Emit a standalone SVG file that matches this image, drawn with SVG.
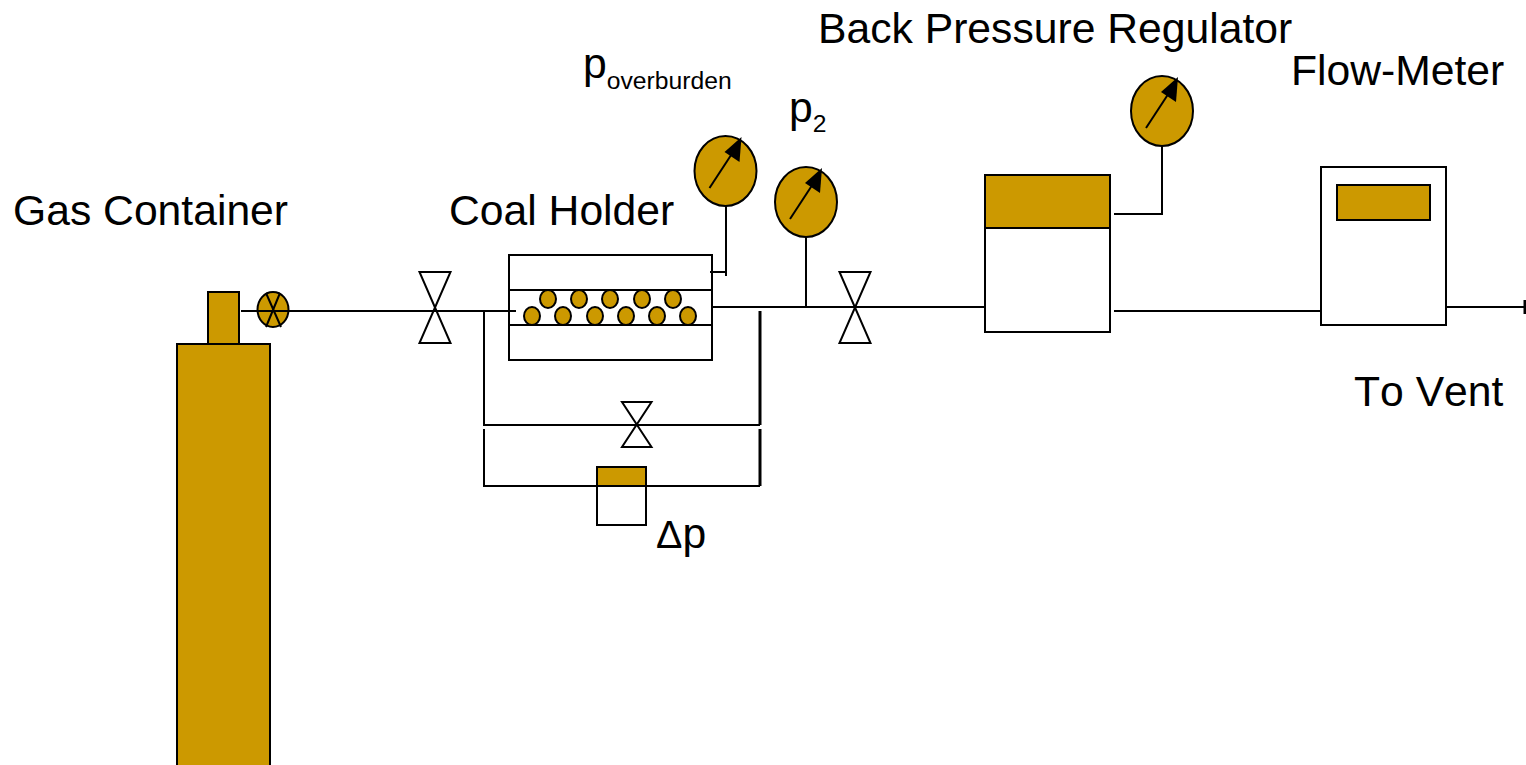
<svg xmlns="http://www.w3.org/2000/svg" width="1526" height="765" viewBox="0 0 1526 765">
<style>
.f{fill:#cc9900;stroke:#000;stroke-width:2}
.w{fill:#fff;stroke:#000;stroke-width:2}
.l{fill:none;stroke:#000;stroke-width:2}
.h{fill:none;stroke:#000;stroke-width:3}
.t{font-family:"Liberation Sans",Arial,sans-serif;font-size:42.67px;fill:#000}
.s{font-size:24.700px}
</style>
<defs>
<g id="gauge"><ellipse cx="0" cy="0" rx="31" ry="35" class="f"/><path d="M-16 17L11.500-25" class="l"/><path d="M16-34L14-9L-1-19Z" fill="#000"/></g>
<g id="valve"><path d="M-15.500-35.500H15.500L-15.500 35.500H15.500Z" class="w"/></g>
</defs>
<rect width="1526" height="765" fill="#fff"/>
<g id="gas-container">
<rect x="177" y="344" width="93" height="423" class="f"/>
<rect x="208" y="292" width="31" height="52" class="f"/>
</g>
<g id="cylinder-valve">
<ellipse cx="273" cy="309.500" rx="15.500" ry="17.500" class="f"/>
<path d="M266 293L281 327M280 293L266 327" class="l"/>
</g>
<g id="valve-1"><use href="#valve" x="435" y="307.500"/></g>
<g id="coal-holder">
<rect x="509" y="255" width="203" height="105" class="w"/>
<path d="M509 290H712M509 325H712" class="l"/>
<g class="f">
<ellipse cx="548" cy="299" rx="8" ry="9"/><ellipse cx="579" cy="299" rx="8" ry="9"/><ellipse cx="610" cy="299" rx="8" ry="9"/><ellipse cx="642" cy="299" rx="8" ry="9"/><ellipse cx="673" cy="299" rx="8" ry="9"/>
<ellipse cx="532" cy="316" rx="8" ry="9"/><ellipse cx="563" cy="316" rx="8" ry="9"/><ellipse cx="595" cy="316" rx="8" ry="9"/><ellipse cx="626" cy="316" rx="8" ry="9"/><ellipse cx="657" cy="316" rx="8" ry="9"/><ellipse cx="688" cy="316" rx="8" ry="9"/>
</g>
</g>
<g id="gauge-overburden"><use href="#gauge" x="725.500" y="171"/></g>
<g id="gauge-p2"><use href="#gauge" x="806" y="202"/></g>
<g id="valve-2"><use href="#valve" x="855" y="307.500"/></g>
<g id="valve-bypass"><path d="M622 402H651.500L622 447H651.500Z" class="w"/></g>
<g id="dp-meter">
<rect x="597" y="467" width="49" height="58" class="w"/>
<rect x="597" y="467" width="49" height="19" class="f"/>
</g>
<g id="back-pressure-regulator">
<rect x="985" y="175" width="125" height="157" class="w"/>
<rect x="985" y="175" width="125" height="53" class="f"/>
</g>
<g id="gauge-regulator"><use href="#gauge" x="1162" y="111"/></g>
<g id="flow-meter">
<rect x="1321" y="167" width="125" height="158" class="w"/>
<rect x="1337" y="185" width="93" height="35" class="f"/>
</g>
<g id="connectors">
<path d="M241 311H516" class="l"/>
<path d="M484 311V425H760" class="l"/>
<path d="M760 311V425" class="h"/>
<path d="M484 429V486H597M646 486H760" class="l"/>
<path d="M760 429V486" class="h"/>
<path d="M713 307H985" class="l"/>
<path d="M806 237V307" class="l"/>
<path d="M710 272H726M726 206V276" class="l"/>
<path d="M1114 214H1162V146" class="l"/>
<path d="M1114 311H1321" class="l"/>
<path d="M1447 307H1525" class="l"/>
<path d="M1525 300V314" class="h"/>
</g>
<g id="labels">
<text class="t" x="13" y="225">Gas Container</text>
<text class="t" x="449" y="225">Coal Holder</text>
<text class="t" x="583" y="78">p<tspan class="s" dy="11">overburden</tspan></text>
<text class="t" x="789" y="122">p<tspan class="s" dy="10">2</tspan></text>
<text class="t" x="818" y="43">Back Pressure Regulator</text>
<text class="t" x="1291" y="85">Flow-Meter</text>
<text class="t" x="1354" y="406" style="font-kerning:none">To Vent</text>
<text class="t" x="656" y="548"><tspan style="font-size:39.500px">Δ</tspan>p</text>
</g>
</svg>
